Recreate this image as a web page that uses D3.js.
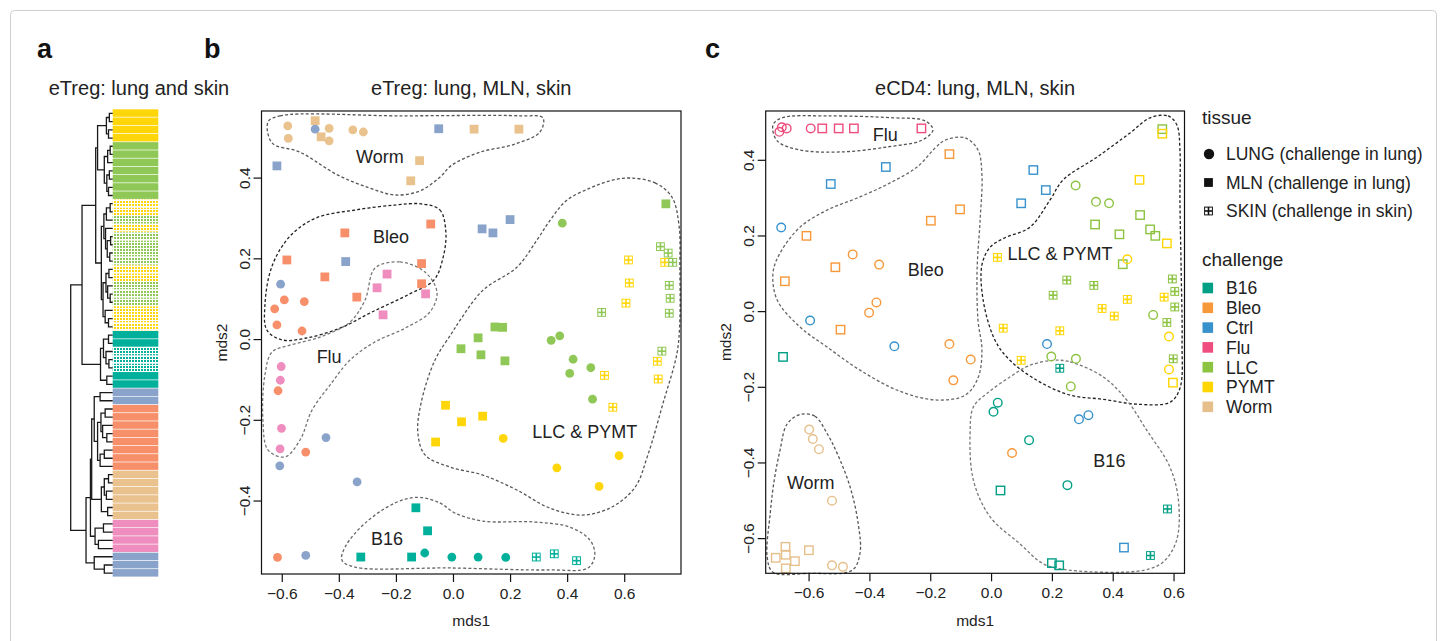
<!DOCTYPE html>
<html>
<head>
<meta charset="utf-8">
<script src="https://cdn.jsdelivr.net/npm/d3@7"></script>
<style>
  body { margin: 0; background: #fff; }
  svg { font-family: "Liberation Sans", Arial, sans-serif; }
</style>
</head>
<body>
<script>
// ---- data ----
const challenges = ["B16", "Bleo", "Ctrl", "Flu", "LLC", "PYMT", "Worm"];
const tissues = ["LUNG", "MLN", "SKIN"];
const tissueLabels = ["LUNG (challenge in lung)", "MLN (challenge in lung)", "SKIN (challenge in skin)"];
const colorsTreg = ["#00b09b", "#f7906a", "#8aa3ca", "#ee8dbe", "#8fc856", "#ffd60a", "#e9c28d"];
const colorsCD4 = ["#009f86", "#f7983b", "#3792cc", "#ee4d7d", "#8cc340", "#ffd600", "#e6bf8a"];

const xTicks = [-0.6, -0.4, -0.2, 0, 0.2, 0.4, 0.6];
const yTicksTreg = [-0.4, -0.2, 0, 0.2, 0.4];
const yTicksCD4 = [-0.6, -0.4, -0.2, 0, 0.2, 0.4];

// panel a: leaf order of the dendrogram
const leafChallenge = [
  "PYMT","PYMT","PYMT","PYMT","LLC","LLC","LLC","LLC","LLC","LLC","LLC",
  "PYMT","PYMT","LLC","PYMT","LLC","LLC","LLC","LLC","PYMT","PYMT","LLC","LLC","LLC","PYMT","PYMT","PYMT",
  "B16","B16","B16","B16","B16","B16","B16",
  "Ctrl","Ctrl","Bleo","Bleo","Bleo","Bleo","Bleo","Bleo","Bleo","Bleo",
  "Worm","Worm","Worm","Worm","Worm","Worm","Flu","Flu","Flu","Flu","Ctrl","Ctrl","Ctrl"
];
const leafTissue = [
  "LUNG","LUNG","LUNG","LUNG","LUNG","LUNG","LUNG","LUNG","LUNG","LUNG","LUNG",
  "SKIN","SKIN","SKIN","SKIN","SKIN","SKIN","SKIN","SKIN","SKIN","SKIN","SKIN","SKIN","SKIN","SKIN","SKIN","SKIN",
  "LUNG","LUNG","SKIN","SKIN","SKIN","LUNG","LUNG",
  "LUNG","LUNG","LUNG","LUNG","LUNG","LUNG","LUNG","LUNG","LUNG","LUNG",
  "LUNG","LUNG","LUNG","LUNG","LUNG","LUNG","LUNG","LUNG","LUNG","LUNG","LUNG","LUNG","LUNG"
];
// [merge height, left, right]; numbers are leaf indices
const eTregTree = [1.0,
  [0.73,
    [0.405,
      [0.36, [0.15, [0.08, 0, 1], [0.1, 2, 3]],
             [0.2, [0.12, [0.06, 4, 5], 6], [0.14, [0.08, 7, 8], [0.1, 9, 10]]]],
      [0.27, [0.21, [0.15, [0.06, 11, 12], 13], [0.17, 14, [0.13, [0.05, 15, 16], [0.07, 17, 18]]]],
             [0.23, [0.16, [0.09, 19, 20], [0.12, 21, [0.06, 22, 23]]], [0.18, 24, [0.1, 25, 26]]]]],
    [0.29, [0.22, [0.1, 27, 28], [0.16, 29, [0.09, 30, 31]]], [0.14, 32, 33]]],
  [0.635,
    [0.53,
      [0.5,
        [0.44, [0.3, 34, 35], [0.36, [0.28, [0.18, 36, 37], [0.24, 38, [0.14, 39, 40]]], [0.3, [0.2, 41, 42], 43]]],
        [0.27, [0.2, [0.1, 44, 45], [0.15, 46, 47]], [0.12, 48, 49]]],
      [0.42, [0.22, 50, 51], [0.34, 52, 53]]],
    [0.44, 54, [0.2, 55, 56]]]
];

// panel b: [challenge, tissue, mds1, mds2]
const eTregPoints = [
  ["Worm","LUNG",-0.579,0.528],["Worm","LUNG",-0.577,0.497],["Worm","LUNG",-0.434,0.522],
  ["Worm","LUNG",-0.434,0.491],["Worm","LUNG",-0.351,0.518],["Worm","LUNG",-0.314,0.513],
  ["Worm","MLN",-0.483,0.541],["Worm","MLN",-0.462,0.501],["Worm","MLN",-0.117,0.442],
  ["Worm","MLN",-0.148,0.392],["Worm","MLN",0.074,0.520],["Worm","MLN",0.231,0.520],
  ["Ctrl","LUNG",-0.483,0.520],["Ctrl","LUNG",-0.604,0.136],["Ctrl","LUNG",-0.445,-0.244],
  ["Ctrl","LUNG",-0.607,-0.314],["Ctrl","LUNG",-0.336,-0.354],["Ctrl","LUNG",-0.516,-0.536],
  ["Ctrl","MLN",-0.050,0.521],["Ctrl","MLN",-0.617,0.429],["Ctrl","MLN",-0.376,0.192],
  ["Ctrl","MLN",0.200,0.296],["Ctrl","MLN",0.102,0.273],["Ctrl","MLN",0.140,0.263],
  ["Bleo","MLN",-0.379,0.263],["Bleo","MLN",-0.078,0.285],["Bleo","MLN",-0.582,0.196],
  ["Bleo","MLN",-0.449,0.154],["Bleo","MLN",-0.110,0.187],["Bleo","MLN",-0.110,0.137],
  ["Bleo","MLN",-0.337,0.104],
  ["Bleo","LUNG",-0.591,0.097],["Bleo","LUNG",-0.521,0.093],["Bleo","LUNG",-0.625,0.075],
  ["Bleo","LUNG",-0.617,0.035],["Bleo","LUNG",-0.529,0.020],["Bleo","LUNG",-0.613,-0.128],
  ["Bleo","LUNG",-0.516,-0.280],["Bleo","LUNG",-0.615,-0.541],
  ["Flu","MLN",-0.231,0.161],["Flu","MLN",-0.266,0.127],["Flu","MLN",-0.096,0.112],["Flu","MLN",-0.245,0.060],
  ["Flu","LUNG",-0.602,-0.068],["Flu","LUNG",-0.605,-0.102],["Flu","LUNG",-0.601,-0.221],["Flu","LUNG",-0.606,-0.272],
  ["B16","MLN",-0.130,-0.418],["B16","MLN",-0.089,-0.475],["B16","MLN",-0.323,-0.540],["B16","MLN",-0.145,-0.540],
  ["B16","LUNG",-0.099,-0.530],["B16","LUNG",-0.004,-0.540],["B16","LUNG",0.088,-0.540],["B16","LUNG",0.185,-0.541],
  ["B16","SKIN",0.292,-0.540],["B16","SKIN",0.355,-0.532],["B16","SKIN",0.433,-0.549],
  ["PYMT","LUNG",0.176,-0.246],["PYMT","LUNG",0.364,-0.319],["PYMT","LUNG",0.512,-0.365],["PYMT","LUNG",0.582,-0.289],
  ["PYMT","MLN",-0.026,-0.164],["PYMT","MLN",-0.061,-0.255],["PYMT","MLN",0.030,-0.205],["PYMT","MLN",0.104,-0.191],
  ["PYMT","SKIN",0.615,0.196],["PYMT","SKIN",0.742,0.190],["PYMT","SKIN",0.618,0.139],["PYMT","SKIN",0.606,0.089],
  ["PYMT","SKIN",0.716,-0.055],["PYMT","SKIN",0.719,-0.099],["PYMT","SKIN",0.531,-0.090],["PYMT","SKIN",0.560,-0.169],
  ["LLC","MLN",0.746,0.335],["LLC","MLN",0.147,0.030],["LLC","MLN",0.174,0.029],["LLC","MLN",0.088,0.003],
  ["LLC","MLN",0.028,-0.024],["LLC","MLN",0.098,-0.039],["LLC","MLN",0.182,-0.054],
  ["LLC","LUNG",0.383,0.287],["LLC","LUNG",0.344,-0.003],["LLC","LUNG",0.374,0.008],["LLC","LUNG",0.421,-0.050],
  ["LLC","LUNG",0.409,-0.085],["LLC","LUNG",0.483,-0.071],["LLC","LUNG",0.489,-0.149],
  ["LLC","SKIN",0.727,0.229],["LLC","SKIN",0.754,0.213],["LLC","SKIN",0.770,0.190],["LLC","SKIN",0.758,0.133],
  ["LLC","SKIN",0.761,0.101],["LLC","SKIN",0.758,0.064],["LLC","SKIN",0.521,0.066],["LLC","SKIN",0.732,-0.030]
];

// panel c
const eCD4Points = [
  ["Flu","LUNG",-0.696,0.474],["Flu","LUNG",-0.688,0.486],["Flu","LUNG",-0.672,0.483],["Flu","LUNG",-0.593,0.483],
  ["Flu","MLN",-0.555,0.483],["Flu","MLN",-0.501,0.483],["Flu","MLN",-0.451,0.483],["Flu","MLN",-0.229,0.483],
  ["Ctrl","MLN",-0.346,0.381],["Ctrl","MLN",-0.527,0.336],["Ctrl","MLN",0.139,0.373],["Ctrl","MLN",0.180,0.320],
  ["Ctrl","MLN",0.099,0.285],["Ctrl","MLN",0.437,-0.625],
  ["Ctrl","LUNG",-0.690,0.221],["Ctrl","LUNG",-0.595,-0.025],["Ctrl","LUNG",-0.318,-0.093],["Ctrl","LUNG",0.184,-0.087],
  ["Ctrl","LUNG",0.289,-0.286],["Ctrl","LUNG",0.320,-0.275],
  ["Bleo","MLN",-0.137,0.415],["Bleo","MLN",-0.102,0.269],["Bleo","MLN",-0.198,0.239],["Bleo","MLN",-0.607,0.199],
  ["Bleo","MLN",-0.512,0.116],["Bleo","MLN",-0.678,0.079],["Bleo","MLN",-0.495,-0.049],
  ["Bleo","LUNG",-0.455,0.150],["Bleo","LUNG",-0.368,0.123],["Bleo","LUNG",-0.377,0.023],["Bleo","LUNG",-0.401,-0.004],
  ["Bleo","LUNG",-0.137,-0.087],["Bleo","LUNG",-0.067,-0.128],["Bleo","LUNG",-0.124,-0.183],["Bleo","LUNG",0.069,-0.375],
  ["LLC","LUNG",0.278,0.332],["LLC","LUNG",0.345,0.289],["LLC","LUNG",0.388,0.285],["LLC","LUNG",0.533,-0.010],
  ["LLC","LUNG",0.198,-0.120],["LLC","LUNG",0.279,-0.126],["LLC","LUNG",0.262,-0.199],
  ["LLC","MLN",0.563,0.481],["LLC","MLN",0.490,0.254],["LLC","MLN",0.342,0.229],["LLC","MLN",0.422,0.203],
  ["LLC","MLN",0.523,0.216],["LLC","MLN",0.540,0.199],["LLC","MLN",0.433,0.124],
  ["LLC","SKIN",0.249,0.082],["LLC","SKIN",0.338,0.068],["LLC","SKIN",0.204,0.042],["LLC","SKIN",0.596,0.085],
  ["LLC","SKIN",0.604,0.052],["LLC","SKIN",0.604,0.011],["LLC","SKIN",0.578,-0.030],["LLC","SKIN",0.599,-0.126],
  ["PYMT","MLN",0.563,0.469],["PYMT","MLN",0.488,0.347],["PYMT","MLN",0.578,0.179],["PYMT","MLN",0.598,-0.189],
  ["PYMT","LUNG",0.448,0.137],["PYMT","LUNG",0.585,-0.067],["PYMT","LUNG",0.585,-0.154],
  ["PYMT","SKIN",0.021,0.142],["PYMT","SKIN",0.040,-0.045],["PYMT","SKIN",0.226,-0.052],["PYMT","SKIN",0.365,0.007],
  ["PYMT","SKIN",0.405,-0.013],["PYMT","SKIN",0.448,0.031],["PYMT","SKIN",0.569,0.037],["PYMT","SKIN",0.099,-0.130],
  ["B16","MLN",-0.684,-0.121],["B16","MLN",0.031,-0.474],["B16","MLN",0.200,-0.666],["B16","MLN",0.224,-0.672],
  ["B16","LUNG",0.022,-0.242],["B16","LUNG",0.008,-0.266],["B16","LUNG",0.125,-0.341],["B16","LUNG",0.251,-0.460],
  ["B16","SKIN",0.226,-0.151],["B16","SKIN",0.580,-0.523],["B16","SKIN",0.524,-0.646],
  ["Worm","LUNG",-0.598,-0.313],["Worm","LUNG",-0.586,-0.338],["Worm","LUNG",-0.566,-0.365],["Worm","LUNG",-0.523,-0.501],
  ["Worm","LUNG",-0.523,-0.672],["Worm","LUNG",-0.487,-0.676],
  ["Worm","MLN",-0.676,-0.623],["Worm","MLN",-0.675,-0.644],["Worm","MLN",-0.708,-0.652],["Worm","MLN",-0.645,-0.661],
  ["Worm","MLN",-0.675,-0.680],["Worm","MLN",-0.599,-0.632]
];

// cluster outlines (mds1, mds2) and their label positions
const eTregHulls = {
  Worm: [[-0.648,0.538],[-0.606,0.553],[-0.186,0.553],[0.235,0.553],[0.315,0.548],[0.305,0.513],[0.217,0.483],[0.095,0.463],
         [-0.004,0.431],[-0.046,0.401],[-0.116,0.367],[-0.203,0.357],[-0.291,0.374],[-0.403,0.406],[-0.536,0.463],[-0.634,0.486]],
  Bleo: [[-0.112,0.335],[-0.046,0.320],[-0.025,0.265],[-0.035,0.201],[-0.067,0.146],[-0.151,0.112],[-0.284,0.067],[-0.396,0.027],
         [-0.518,0.002],[-0.599,-0.002],[-0.652,0.022],[-0.659,0.084],[-0.634,0.181],[-0.571,0.255],[-0.480,0.300],[-0.340,0.320],[-0.203,0.332]],
  Flu: [[-0.273,0.176],[-0.186,0.191],[-0.098,0.166],[-0.056,0.116],[-0.081,0.067],[-0.168,0.027],[-0.273,-0.007],[-0.361,-0.052],
        [-0.431,-0.114],[-0.494,-0.176],[-0.536,-0.250],[-0.589,-0.292],[-0.648,-0.275],[-0.666,-0.201],[-0.659,-0.089],[-0.634,-0.032],
        [-0.571,-0.015],[-0.466,0.005],[-0.361,0.042],[-0.308,0.097]],
  "LLC & PYMT": [[0.620,0.399],[0.708,0.387],[0.767,0.352],[0.792,0.282],[0.795,0.171],[0.795,0.047],[0.785,-0.035],[0.736,-0.159],
        [0.683,-0.287],[0.638,-0.367],[0.557,-0.416],[0.455,-0.436],[0.340,-0.419],[0.224,-0.374],[0.105,-0.337],[-0.011,-0.317],
        [-0.098,-0.287],[-0.123,-0.233],[-0.112,-0.159],[-0.063,-0.052],[-0.004,0.015],[0.025,0.047],[0.105,0.121],[0.224,0.178],
        [0.294,0.245],[0.343,0.297],[0.399,0.344],[0.480,0.374],[0.550,0.392]],
  B16: [[-0.123,-0.392],[-0.046,-0.406],[0.007,-0.431],[0.105,-0.451],[0.280,-0.453],[0.410,-0.466],[0.480,-0.498],[0.497,-0.535],
        [0.473,-0.567],[0.340,-0.572],[-0.011,-0.567],[-0.343,-0.565],[-0.389,-0.548],[-0.378,-0.515],[-0.308,-0.456],[-0.203,-0.406]]
};
const eTregHullLabels = { Worm: [-0.256,0.451], Bleo: [-0.217,0.253], Flu: [-0.434,-0.042], "LLC & PYMT": [0.462,-0.228], B16: [-0.231,-0.493] };

const eCD4Hulls = {
  Flu: [[-0.717,0.492],[-0.687,0.511],[-0.539,0.516],[-0.322,0.511],[-0.217,0.503],[-0.191,0.479],[-0.227,0.452],[-0.342,0.434],
        [-0.486,0.421],[-0.628,0.426],[-0.703,0.450]],
  Bleo: [[-0.151,0.452],[-0.085,0.458],[-0.043,0.426],[-0.030,0.360],[-0.036,0.241],[-0.046,0.108],[-0.043,-0.024],[-0.030,-0.103],
         [-0.043,-0.177],[-0.085,-0.222],[-0.177,-0.235],[-0.299,-0.212],[-0.431,-0.156],[-0.539,-0.095],[-0.628,-0.042],[-0.703,0.029],
         [-0.717,0.101],[-0.694,0.153],[-0.628,0.222],[-0.539,0.267],[-0.431,0.302],[-0.332,0.339],[-0.243,0.381],[-0.184,0.431]],
  "LLC & PYMT": [[0.523,0.511],[0.582,0.516],[0.611,0.492],[0.621,0.426],[0.621,0.294],[0.625,0.108],[0.628,-0.077],[0.621,-0.204],
        [0.588,-0.241],[0.480,-0.246],[0.368,-0.233],[0.260,-0.222],[0.151,-0.183],[0.062,-0.130],[0.013,-0.077],[-0.026,0.029],
        [-0.030,0.122],[-0.003,0.169],[0.043,0.193],[0.128,0.222],[0.194,0.294],[0.237,0.347],[0.348,0.407],[0.457,0.471]],
  Worm: [[-0.628,-0.273],[-0.579,-0.278],[-0.536,-0.328],[-0.506,-0.376],[-0.463,-0.466],[-0.437,-0.561],[-0.431,-0.640],[-0.457,-0.685],
         [-0.595,-0.693],[-0.717,-0.690],[-0.736,-0.651],[-0.726,-0.534],[-0.713,-0.447],[-0.694,-0.368],[-0.671,-0.299]],
  B16: [[0.205,-0.130],[0.260,-0.134],[0.369,-0.174],[0.446,-0.235],[0.512,-0.315],[0.588,-0.412],[0.616,-0.500],[0.610,-0.606],
        [0.566,-0.663],[0.501,-0.685],[0.260,-0.685],[0.172,-0.668],[0.095,-0.615],[-0.003,-0.544],[-0.058,-0.447],[-0.069,-0.324],
        [-0.058,-0.253],[-0.014,-0.218],[0.062,-0.174],[0.128,-0.143]]
};
const eCD4HullLabels = { Flu: [-0.348,0.466], Bleo: [-0.215,0.110], "LLC & PYMT": [0.227,0.151], Worm: [-0.593,-0.453], B16: [0.389,-0.396] };

// ---- drawing ----
const W = 1447, H = 641;
const svg = d3.select("body").append("svg").attr("width", W).attr("height", H);
const defs = svg.append("defs");

const colTreg = d3.scaleOrdinal().domain(challenges).range(colorsTreg);
const colCD4 = d3.scaleOrdinal().domain(challenges).range(colorsCD4);

// frame
svg.append("rect").attr("x", 10.5).attr("y", 10.5).attr("width", W - 21).attr("height", H)
  .attr("rx", 4).attr("fill", "none").attr("stroke", "#cfcfcf");

// panel letters
[["a", 37], ["b", 204], ["c", 705]].forEach(([t, x]) => {
  svg.append("text").attr("x", x).attr("y", 58).attr("font-size", 27).attr("font-weight", "bold").attr("fill", "#111").text(t);
});

// checked pattern for skin samples in the strip
challenges.forEach(c => {
  const p = defs.append("pattern").attr("id", "chk-" + c).attr("patternUnits", "userSpaceOnUse")
    .attr("width", 3).attr("height", 3);
  p.append("rect").attr("width", 3).attr("height", 3).attr("fill", "#fff");
  p.append("rect").attr("width", 2).attr("height", 2).attr("fill", colTreg(c));
});

// ---- panel a ----
svg.append("text").attr("x", 139).attr("y", 95).attr("text-anchor", "middle").attr("font-size", 20)
  .attr("fill", "#222").text("eTreg: lung and skin");

const leafY = d3.scaleBand().domain(d3.range(leafChallenge.length)).range([109.3, 577.3]);
const hx = d3.scaleLinear().domain([0, 1]).range([112.7, 70.7]);

const strip = svg.append("g");
strip.selectAll("rect").data(leafChallenge).enter().append("rect")
  .attr("x", 112.7).attr("width", 45.6)
  .attr("y", (d, i) => leafY(i)).attr("height", leafY.bandwidth() - 0.7)
  .attr("fill", (d, i) => leafTissue[i] === "SKIN" ? "url(#chk-" + d + ")" : colTreg(d));

const treeG = svg.append("g").attr("fill", "none").attr("stroke", "#1a1a1a").attr("stroke-width", 1.3);
function drawTree(node) {
  if (typeof node === "number") return { x: hx(0), y: leafY(node) + leafY.bandwidth() / 2 };
  const [h, a, b] = node;
  const ca = drawTree(a), cb = drawTree(b);
  const x = hx(h);
  treeG.append("path").attr("d", `M${ca.x},${ca.y}H${x}V${cb.y}H${cb.x}`);
  return { x: x, y: (ca.y + cb.y) / 2 };
}
drawTree(eTregTree);

// ---- symbols ----
function symbol(g, cx, cy, tissue, color, open) {
  const s = 8.8;
  if (tissue === "LUNG") {
    if (open) g.append("circle").attr("cx", cx).attr("cy", cy).attr("r", 4.3).attr("fill", "none").attr("stroke", color).attr("stroke-width", 1.4);
    else g.append("circle").attr("cx", cx).attr("cy", cy).attr("r", 4.4).attr("fill", color);
  } else if (tissue === "MLN") {
    if (open) g.append("rect").attr("x", cx - 4.2).attr("y", cy - 4.2).attr("width", 8.4).attr("height", 8.4)
      .attr("fill", "none").attr("stroke", color).attr("stroke-width", 1.4);
    else g.append("rect").attr("x", cx - s / 2).attr("y", cy - s / 2).attr("width", s).attr("height", s).attr("fill", color);
  } else {
    g.append("rect").attr("x", cx - s / 2).attr("y", cy - s / 2).attr("width", s).attr("height", s).attr("fill", color);
    const c = 2.6, gap = 0.8;
    [[-1, -1], [1, -1], [-1, 1], [1, 1]].forEach(([sx, sy]) => {
      g.append("rect").attr("x", cx + (sx < 0 ? -gap - c : gap)).attr("y", cy + (sy < 0 ? -gap - c : gap))
        .attr("width", c).attr("height", c).attr("fill", "#fff");
    });
  }
}

// ---- scatter panels ----
function scatter(opt) {
  const x = d3.scaleLinear().domain(opt.xDom).range([opt.left, opt.right]);
  const y = d3.scaleLinear().domain(opt.yDom).range([opt.bottom, opt.top]);
  const g = svg.append("g");

  g.append("text").attr("x", (opt.left + opt.right) / 2).attr("y", 95).attr("text-anchor", "middle")
    .attr("font-size", 20).attr("fill", "#222").text(opt.title);

  // hulls
  const line = d3.line().x(d => x(d[0])).y(d => y(d[1])).curve(d3.curveCatmullRomClosed.alpha(0.5));
  Object.keys(opt.hulls).forEach(k => {
    g.append("path").attr("d", line(opt.hulls[k])).attr("fill", "none")
      .attr("stroke", opt.hullStroke[k]).attr("stroke-width", 1.3).attr("stroke-dasharray", "3,2.2");
  });

  // points
  const pg = g.append("g");
  opt.points.forEach(p => symbol(pg, x(p[2]), y(p[3]), p[1], opt.color(p[0]), opt.open));

  // hull labels
  Object.keys(opt.labels).forEach(k => {
    g.append("text").attr("x", x(opt.labels[k][0])).attr("y", y(opt.labels[k][1])).attr("dy", "0.36em")
      .attr("text-anchor", "middle").attr("font-size", 18).attr("fill", "#222").text(k);
  });

  // box
  g.append("rect").attr("x", opt.left).attr("y", opt.top).attr("width", opt.right - opt.left)
    .attr("height", opt.bottom - opt.top).attr("fill", "none").attr("stroke", "#111").attr("stroke-width", 1.2);

  const fmt = d3.format(".1f");
  const xa = g.append("g").attr("transform", `translate(0,${opt.bottom})`)
    .call(d3.axisBottom(x).tickValues(xTicks).tickSize(8).tickPadding(6).tickFormat(fmt));
  const ya = g.append("g").attr("transform", `translate(${opt.left},0)`)
    .call(d3.axisLeft(y).tickValues(opt.yTicks).tickSize(8).tickFormat(fmt));
  [xa, ya].forEach(a => {
    a.select(".domain").remove();
    a.selectAll("line").attr("stroke", "#111").attr("stroke-width", 1.2);
    a.selectAll("text").attr("font-size", 15.5).attr("fill", "#222").attr("font-family", "Liberation Sans, Arial, sans-serif");
  });
  ya.selectAll("text").attr("x", null).attr("dy", null).attr("text-anchor", "middle")
    .attr("transform", "translate(-12,0) rotate(-90)");

  g.append("text").attr("x", (opt.left + opt.right) / 2).attr("y", 626).attr("text-anchor", "middle")
    .attr("font-size", 15.5).attr("fill", "#222").text("mds1");
  g.append("text").attr("transform", `translate(${opt.left - 35},${(opt.top + opt.bottom) / 2}) rotate(-90)`)
    .attr("text-anchor", "middle").attr("font-size", 15.5).attr("fill", "#222").text("mds2");
}

scatter({
  title: "eTreg: lung, MLN, skin",
  xDom: [-0.671, 0.799], yDom: [-0.582, 0.565],
  left: 261.5, right: 681, top: 111, bottom: 574,
  yTicks: yTicksTreg, points: eTregPoints, color: colTreg, open: false,
  hulls: eTregHulls, labels: eTregHullLabels,
  hullStroke: { Worm: "#555", Bleo: "#222", Flu: "#777", "LLC & PYMT": "#555", B16: "#666" }
});

scatter({
  title: "eCD4: lung, MLN, skin",
  xDom: [-0.741, 0.636], yDom: [-0.693, 0.529],
  left: 765.7, right: 1184.5, top: 111, bottom: 573.3,
  yTicks: yTicksCD4, points: eCD4Points, color: colCD4, open: true,
  hulls: eCD4Hulls, labels: eCD4HullLabels,
  hullStroke: { Flu: "#555", Bleo: "#666", "LLC & PYMT": "#222", Worm: "#555", B16: "#777" }
});

// ---- legend ----
const lg = svg.append("g").attr("fill", "#222");
lg.append("text").attr("x", 1202).attr("y", 124).attr("font-size", 19).text("tissue");
tissues.forEach((t, i) => {
  const yy = 154 + i * 28.5;
  if (t === "LUNG") lg.append("circle").attr("cx", 1209).attr("cy", yy).attr("r", 5.2).attr("fill", "#111");
  else symbol(lg, 1208.5, yy, t, "#111", false);
  lg.append("text").attr("x", 1226).attr("y", yy).attr("dy", "0.36em").attr("font-size", 17.5).text(tissueLabels[i]);
});
lg.append("text").attr("x", 1202).attr("y", 266).attr("font-size", 19).text("challenge");
challenges.forEach((c, i) => {
  const yy = 288 + i * 19.8;
  lg.append("rect").attr("x", 1202.5).attr("y", yy - 5.3).attr("width", 10.6).attr("height", 10.6).attr("fill", colCD4(c));
  lg.append("text").attr("x", 1226).attr("y", yy).attr("dy", "0.36em").attr("font-size", 17.5).text(c);
});
</script>
</body>
</html>
